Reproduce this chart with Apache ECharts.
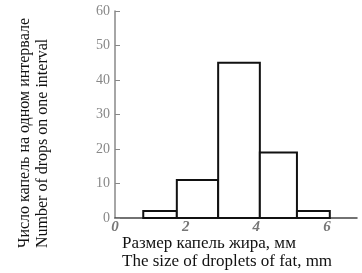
<!DOCTYPE html>
<html>
<head>
<meta charset="utf-8">
<script src="https://cdn.jsdelivr.net/npm/echarts@6/dist/echarts.min.js"></script>
<style>
  html, body { margin: 0; padding: 0; background: #fff; }
  #chart { width: 362px; height: 273px; }
</style>
</head>
<body>
<div id="chart"></div>
<script>
// bin edges (mm) and counts
var binStart = [0.8, 1.75, 2.92, 4.1, 5.15];
var binEnd = [1.75, 2.92, 4.1, 5.15, 6.08];
var counts = [2, 11, 45, 19, 2];
var xTicks = [0, 2, 4, 6];
var yTicks = [0, 10, 20, 30, 40, 50, 60];

var bins = [];
for (var i = 0; i < counts.length; i++) {
  bins.push([binStart[i], binEnd[i], counts[i]]);
}

var chart = echarts.init(document.getElementById('chart'));

var option = {
  backgroundColor: '#fff',
  animation: false,
  grid: { left: 115, right: 5, top: 11, bottom: 55 },
  xAxis: {
    type: 'value',
    min: 0,
    max: 6.85,
    interval: 2,
    splitLine: { show: false },
    axisLine: { lineStyle: { color: '#444', width: 1.5 } },
    axisTick: { show: false },
    axisLabel: {
      color: '#777',
      fontFamily: 'Liberation Serif',
      fontStyle: 'italic',
      fontWeight: 'bold',
      fontSize: 15,
      margin: 2,
      showMaxLabel: false,
      formatter: function (v) {
        return xTicks.indexOf(v) >= 0 ? String(v) : '';
      }
    }
  },
  yAxis: {
    type: 'value',
    min: 0,
    max: 60,
    interval: 10,
    splitLine: { show: false },
    axisLine: { show: true, lineStyle: { color: '#888', width: 1.5 } },
    axisTick: { show: true, inside: true, length: 5, lineStyle: { color: '#888' } },
    axisLabel: {
      color: '#888',
      fontFamily: 'Liberation Serif',
      fontSize: 14,
      margin: 5,
      formatter: function (v) {
        return yTicks.indexOf(v) >= 0 ? String(v) : '';
      }
    }
  },
  series: [{
    type: 'custom',
    data: bins,
    encode: { x: [0, 1], y: 2 },
    renderItem: function (params, api) {
      var p0 = api.coord([api.value(0), api.value(2)]);
      var p1 = api.coord([api.value(1), 0]);
      return {
        type: 'rect',
        shape: { x: p0[0], y: p0[1], width: p1[0] - p0[0], height: p1[1] - p0[1] },
        style: { fill: '#fff', stroke: '#111', lineWidth: 2 }
      };
    }
  }],
  graphic: [
    {
      type: 'text',
      x: 25, y: 248,
      rotation: Math.PI / 2,
      style: {
        text: 'Число капель на одном интервале',
        fill: '#111',
        font: '16px "Liberation Serif"',
        align: 'left',
        verticalAlign: 'middle'
      }
    },
    {
      type: 'text',
      x: 43, y: 248,
      rotation: Math.PI / 2,
      style: {
        text: 'Number of drops on one interval',
        fill: '#111',
        font: '16px "Liberation Serif"',
        align: 'left',
        verticalAlign: 'middle'
      }
    },
    {
      type: 'text',
      x: 122, y: 244,
      style: {
        text: 'Размер капель жира, мм',
        fill: '#111',
        font: '17px "Liberation Serif"',
        verticalAlign: 'middle'
      }
    },
    {
      type: 'text',
      x: 122, y: 262,
      style: {
        text: 'The size of droplets of fat, mm',
        fill: '#111',
        font: '17px "Liberation Serif"',
        verticalAlign: 'middle'
      }
    }
  ]
};

chart.setOption(option);
</script>
</body>
</html>
